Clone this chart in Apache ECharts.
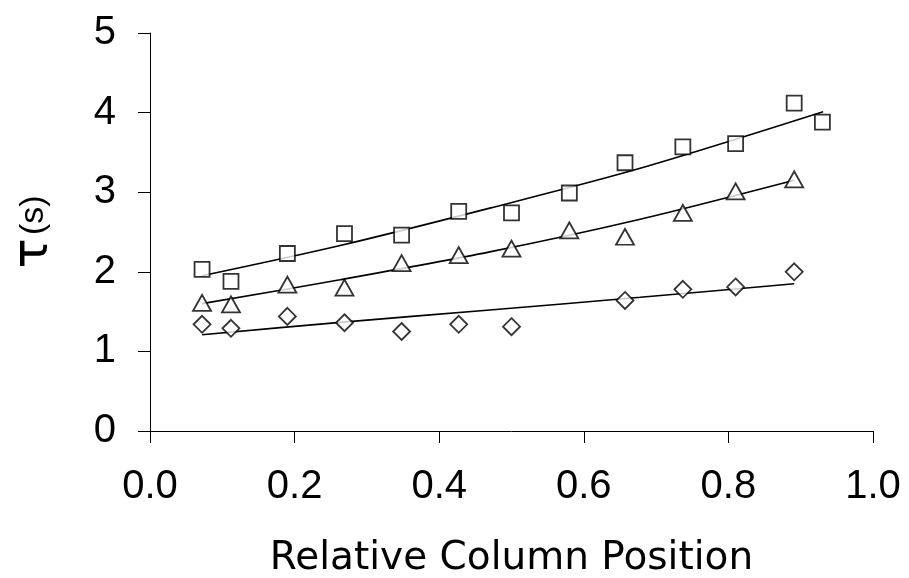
<!DOCTYPE html>
<html>
<head>
<meta charset="utf-8">
<script src="https://cdn.jsdelivr.net/npm/echarts@6/dist/echarts.min.js"></script>
<style>
  html, body { margin: 0; padding: 0; background: #fff; }
  #chart { width: 909px; height: 578px; }
</style>
</head>
<body>
<div id="chart"></div>
<script>
// positions along the column
const positions = [0.072, 0.112, 0.19, 0.269, 0.348, 0.427, 0.50, 0.58, 0.657, 0.737, 0.81, 0.891, 0.93];
const squareTau = [2.03, 1.88, 2.23, 2.48, 2.46, 2.76, 2.74, 2.99, 3.37, 3.57, 3.61, 4.12, 3.88];
const triangleTau = [1.61, 1.59, 1.84, 1.80, 2.11, 2.21, 2.29, 2.52, 2.44, 2.74, 3.01, 3.16];
const diamondPos = [0.072, 0.112, 0.19, 0.269, 0.348, 0.427, 0.50, 0.657, 0.737, 0.81, 0.891];
const diamondTau = [1.34, 1.29, 1.44, 1.36, 1.25, 1.34, 1.31, 1.64, 1.78, 1.81, 2.00];

// trend lines
const fitPos = [0.072, 0.263, 0.470, 0.678];
const squareFit = [1.95, 2.33, 2.80, 3.30, 4.01];
const squareFitEnd = 0.931;
const triangleFit = [1.60, 1.90, 2.25, 2.66, 3.15];
const diamondFit = [1.21, 1.365, 1.52, 1.68, 1.85];
const fitEnd = 0.891;

const pairs = (xs, ys) => ys.map((y, i) => [xs[i], y]);

const markerStyle = { color: "#fff", borderColor: "#000", borderWidth: 1.8 };
const fitLine = { color: "#000", width: 1.6 };

const chart = echarts.init(document.getElementById("chart"));

chart.setOption({
  backgroundColor: "#fff",
  animation: false,
  grid: { left: 150, right: 36, top: 33, bottom: 147, outerBoundsMode: "none" },
  xAxis: {
    type: "value",
    min: 0,
    max: 1,
    interval: 0.2,
    name: "Relative Column Position",
    nameLocation: "middle",
    nameGap: 108,
    nameTextStyle: { fontFamily: "DejaVu Sans", fontSize: 39, color: "#000" },
    axisLine: { onZero: false, lineStyle: { color: "#000", width: 1 } },
    axisTick: { show: true, length: 12, lineStyle: { color: "#000" } },
    splitLine: { show: false },
    axisLabel: {
      margin: 36,
      color: "#000",
      fontFamily: "Liberation Sans",
      fontSize: 40,
      formatter: v => v.toFixed(1),
    },
  },
  yAxis: {
    type: "value",
    min: 0,
    max: 5,
    interval: 1,
    name: "{t|τ} {s|(s)}",
    nameLocation: "middle",
    nameGap: 116,
    nameRotate: 90,
    nameTextStyle: {
      color: "#000",
      verticalAlign: "middle",
      rich: {
        t: { fontFamily: "DejaVu Sans", fontSize: 50, color: "#000", verticalAlign: "middle" },
        s: { fontFamily: "Liberation Sans", fontSize: 34, color: "#000", verticalAlign: "middle" },
      },
    },
    axisLine: { show: true, lineStyle: { color: "#000", width: 1 } },
    axisTick: { show: true, length: 12, lineStyle: { color: "#000" } },
    splitLine: { show: false },
    axisLabel: {
      margin: 34,
      color: "#000",
      fontFamily: "Liberation Sans",
      fontSize: 40,
    },
  },
  series: [
    {
      type: "line",
      data: pairs(fitPos.concat([squareFitEnd]), squareFit),
      showSymbol: false,
      smooth: 0.3,
      lineStyle: fitLine,
      z: 1,
    },
    {
      type: "line",
      data: pairs(fitPos.concat([fitEnd]), triangleFit),
      showSymbol: false,
      smooth: 0.3,
      lineStyle: fitLine,
      z: 1,
    },
    {
      type: "line",
      data: pairs(fitPos.concat([fitEnd]), diamondFit),
      showSymbol: false,
      smooth: 0.3,
      lineStyle: fitLine,
      z: 1,
    },
    {
      type: "scatter",
      data: pairs(positions, squareTau),
      symbol: "rect",
      symbolSize: 15,
      itemStyle: markerStyle,
      z: 2,
    },
    {
      type: "scatter",
      data: pairs(positions, triangleTau),
      symbol: "triangle",
      symbolSize: [18, 16],
      itemStyle: markerStyle,
      z: 2,
    },
    {
      type: "scatter",
      data: pairs(diamondPos, diamondTau),
      symbol: "diamond",
      symbolSize: [17, 17],
      itemStyle: markerStyle,
      z: 2,
    },
  ],
});
</script>
</body>
</html>
